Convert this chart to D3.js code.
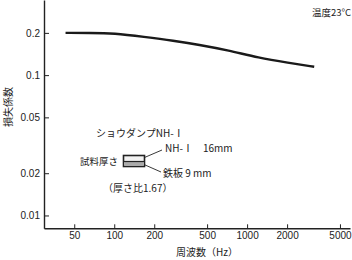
<!DOCTYPE html>
<html>
<head>
<meta charset="utf-8">
<script src="https://cdn.jsdelivr.net/npm/d3@7"></script>
<style>
  body { margin: 0; background: #fff; }
  text { font-family: "Noto Sans CJK JP", "Liberation Sans", sans-serif; fill: #222; }
  .axis text { font-family: "Liberation Sans", sans-serif; font-size: 10px; }
  .axis path, .axis line { stroke: #222; }
</style>
</head>
<body>
<div id="chart"></div>
<script>
// Data
const frequencies = [43, 65, 100, 167, 281, 432, 725, 1217, 2043, 3200]
const lossFactors = [0.2, 0.2, 0.199, 0.1875, 0.1757, 0.1645, 0.150, 0.1329, 0.1225, 0.1147]
const xTickValues = [50, 100, 200, 500, 1000, 2000, 5000]
const yTickValues = [0.2, 0.1, 0.05, 0.02, 0.01]
const yTickLabels = ['0.2', '0.1', '0.05', '0.02', '0.01']

function draw() {
  // Dimensions
  let dimensions = {
    width: 352,
    height: 260,
    left: 44,
    right: 350,
    top: 0,
    bottom: 228.3,
  }

  const svg = d3.select('#chart')
    .append('svg')
    .attr('width', dimensions.width)
    .attr('height', dimensions.height)

  // Scales
  const xScale = d3.scaleLog()
    .domain([29.6, 5950])
    .range([dimensions.left, dimensions.right])

  const yScale = d3.scaleLog()
    .domain([0.0081, 0.343])
    .range([dimensions.bottom, dimensions.top])

  // Axis
  const xAxis = d3.axisBottom(xScale)
    .tickValues(xTickValues)
    .tickFormat(d3.format('d'))
    .tickSizeInner(-4)
    .tickSizeOuter(0)
    .tickPadding(4)

  const xAxisGroup = svg.append('g')
    .attr('transform', `translate(0, ${dimensions.bottom})`)
    .classed('axis', true)
    .call(xAxis)
  xAxisGroup.select('.domain').attr('stroke-width', 1.4)

  const yAxis = d3.axisLeft(yScale)
    .tickValues(yTickValues)
    .tickFormat((d, i) => yTickLabels[i])
    .tickSizeInner(-5)
    .tickSizeOuter(0)
    .tickPadding(4)

  const yAxisGroup = svg.append('g')
    .attr('transform', `translate(${dimensions.left}, 0)`)
    .classed('axis', true)
    .call(yAxis)
  yAxisGroup.select('.domain').attr('stroke-width', 1.4)

  // axis titles
  svg.append('text')
    .attr('x', 207)
    .attr('y', 256)
    .attr('text-anchor', 'middle')
    .style('font-size', '10px')
    .text('周波数（Hz）')

  svg.append('text')
    .attr('transform', 'translate(12, 107) rotate(-90)')
    .attr('text-anchor', 'middle')
    .style('font-size', '10px')
    .text('損失係数')

  svg.append('text')
    .attr('x', 351)
    .attr('y', 16)
    .attr('text-anchor', 'end')
    .style('font-size', '9.5px')
    .text('温度23°C')

  // Line
  const lineGenerator = d3.line()
    .x((d, i) => xScale(frequencies[i]))
    .y((d) => yScale(d))
    .curve(d3.curveBasis)

  svg.append('path')
    .datum(lossFactors)
    .attr('d', lineGenerator)
    .attr('fill', 'none')
    .attr('stroke', '#1a1a1a')
    .attr('stroke-width', 2.4)

  // Legend / annotation
  const note = svg.append('g')

  note.append('text').attr('x', 96).attr('y', 137)
    .style('font-size', '10px').text('ショウダンプNH-Ⅰ')
  note.append('text').attr('x', 80).attr('y', 165)
    .style('font-size', '9.5px').text('試料厚さ')
  note.append('text').attr('x', 165).attr('y', 152)
    .style('font-size', '10px').text('NH-Ⅰ')
  note.append('text').attr('x', 203).attr('y', 152)
    .style('font-size', '10px').text('16mm')
  note.append('text').attr('x', 163).attr('y', 177)
    .style('font-size', '10px').text('鉄板 9 mm')
  note.append('text').attr('x', 103).attr('y', 192)
    .style('font-size', '10px').text('（厚さ比1.67）')

  // sample box
  note.append('rect')
    .attr('x', 123.5).attr('y', 155.5).attr('width', 21).attr('height', 11)
    .attr('fill', '#f2f2f2').attr('stroke', '#222').attr('stroke-width', 1.6)
  note.append('rect')
    .attr('x', 124.5).attr('y', 162).attr('width', 19).attr('height', 4)
    .attr('fill', '#aaa')
  note.append('line')
    .attr('x1', 124).attr('x2', 144).attr('y1', 161.5).attr('y2', 161.5)
    .attr('stroke', '#222').attr('stroke-width', 1.2)

  note.append('line')
    .attr('x1', 144.5).attr('y1', 157.5).attr('x2', 162).attr('y2', 150)
    .attr('stroke', '#222').attr('stroke-width', 0.9)
  note.append('line')
    .attr('x1', 144).attr('y1', 164.5).attr('x2', 161).attr('y2', 172)
    .attr('stroke', '#222').attr('stroke-width', 0.9)
}
draw()
</script>
</body>
</html>
